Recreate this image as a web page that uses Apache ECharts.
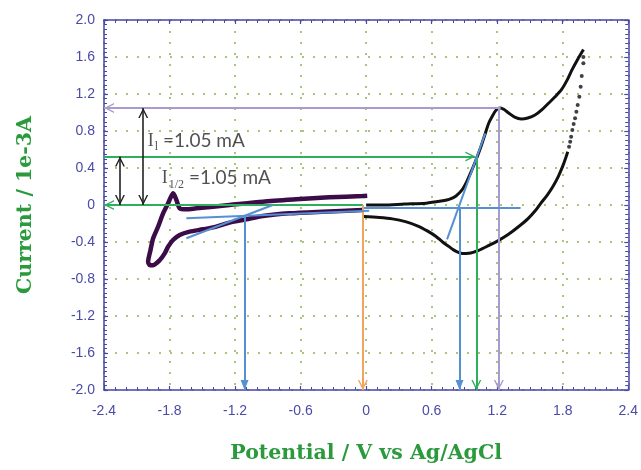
<!DOCTYPE html>
<html><head><meta charset="utf-8">
<script src="https://cdn.jsdelivr.net/npm/echarts@6/dist/echarts.min.js"></script>
<style>html,body{margin:0;padding:0;background:#fff}#c{width:641px;height:470px}</style>
</head><body><div id="c"></div>
<script>
// ---------- axis ticks ----------
const xTickLabels = ['-2.4','-1.8','-1.2','-0.6','0','0.6','1.2','1.8','2.4'];
const yTickLabels = ['-2.0','-1.6','-1.2','-0.8','-0.4','0','0.4','0.8','1.2','1.6','2.0'];

// ---------- CV traces [potential V, current 1e-3 A] ----------
const cvForward = [[0.0,0.0],[0.15,0.0],[0.35,0.01],[0.55,0.02],[0.7,0.045],[0.76,0.06],[0.82,0.095],[0.876,0.16],[0.92,0.25],[0.968,0.378],[1.01,0.5],[1.05,0.627],[1.09,0.77],[1.123,0.886],[1.16,0.97],[1.186,1.02],[1.21,1.045],[1.232,1.05],[1.26,1.035],[1.305,0.995],[1.36,0.95],[1.42,0.93],[1.48,0.94],[1.55,0.975],[1.61,1.03],[1.67,1.10],[1.73,1.17],[1.79,1.25],[1.84,1.35],[1.88,1.45],[1.93,1.56],[1.99,1.68]];
const cvReturnDots = [[1.989,1.60],[1.989,1.532],[1.974,1.395],[1.964,1.279],[1.952,1.171],[1.937,1.081],[1.925,1.009],[1.913,0.937],[1.900,0.876],[1.888,0.811],[1.877,0.739],[1.868,0.685],[1.858,0.630]];
const cvReturn = [[1.846,0.576],[1.83,0.52],[1.80,0.42],[1.76,0.31],[1.71,0.20],[1.66,0.11],[1.60,0.02],[1.55,-0.06],[1.48,-0.15],[1.40,-0.23],[1.30,-0.32],[1.21,-0.385],[1.12,-0.44],[1.03,-0.49],[0.94,-0.522],[0.88,-0.525],[0.85,-0.515],[0.80,-0.485],[0.76,-0.45],[0.70,-0.40],[0.64,-0.34],[0.56,-0.28],[0.48,-0.23],[0.36,-0.18],[0.24,-0.15],[0.12,-0.135],[-0.02,-0.125]];
const purpleUpper = [[0.01,0.10],[-0.034,0.097],[-0.338,0.083],[-0.642,0.061],[-0.946,0.036],[-1.25,0.0],[-1.555,-0.036],[-1.646,-0.047],[-1.707,-0.036],[-1.737,0.054],[-1.767,0.126],[-1.79,0.08],[-1.813,0.018],[-1.859,-0.09],[-1.905,-0.235],[-1.95,-0.36],[-1.974,-0.486],[-1.996,-0.613],[-1.98,-0.65]];
const purpleLower = [[-1.95,-0.65],[-1.889,-0.595],[-1.844,-0.523],[-1.813,-0.45],[-1.768,-0.378],[-1.707,-0.324],[-1.616,-0.288],[-1.494,-0.263],[-1.372,-0.234],[-1.25,-0.19],[-1.098,-0.155],[-0.946,-0.119],[-0.703,-0.09],[-0.4,-0.072],[-0.034,-0.054]];

// ---------- annotation geometry (data coordinates) ----------
const limitH = [[1.232,1.05],[-2.4,1.05]];
const limitV = [[1.215,1.05],[1.215,-2.0]];
const halfH = [[-2.4,0.525],[1.0,0.525]];
const halfV = [[1.009,0.525],[1.009,-2.0]];
const zeroH = [[-0.03,0.0],[-2.4,0.0]];
const orangeV = [[-0.03,0.0],[-0.03,-2.0]];
const blueLines = [
  [[-1.646,-0.144],[0.028,-0.062]],
  [[-1.646,-0.36],[-0.855,0.0]],
  [[-0.02,-0.03],[1.414,-0.03]],
  [[0.741,-0.371],[1.091,0.775]]
];
const blueArrows = [
  [[-1.113,-0.117],[-1.113,-2.0]],
  [[0.855,-0.03],[0.855,-2.0]]
];
const doubleArrows = [
  [[-2.254,0.0],[-2.254,0.525]],
  [[-2.041,0.0],[-2.041,1.05]]
];
const textAnchors = [[-2.0,0.68],[-1.871,0.275]];
const annotationTexts = [['I','l','=1.05 mA'],['I','1/2','=1.05 mA']];

// ---------- styles ----------
const axisColor = '#4646a8';
const chevron = 'path://M5 -10L5.01 -10L5 -9.99Z M5 0L10 10L8.5 10L5 3L1.5 10L0 10Z';
const tri = 'path://M4 -10L4.01 -10L4 -9.99Z M4 0L8 10L0 10Z';

function seg(p, q, s0, s1) {
  return [{coord:p, symbol:s0}, {coord:q, symbol:s1}];
}
function mlSeries(name, color, width, items, symSize) {
  return {
    type:'line', name:name, data:[], silent:true,
    markLine:{
      silent:true, animation:false, label:{show:false},
      symbolSize: symSize || [10,20],
      lineStyle:{color:color, width:width, type:'solid'},
      emphasis:{disabled:true},
      data: items
    }
  };
}

const chart = echarts.init(document.getElementById('c'), null, {renderer:'canvas'});

const baseX = {type:'value', min:-2.4, max:2.4, interval:0.6};
const baseY = {type:'value', min:-2.0, max:2.0, interval:0.4};
const gridDots = {show:true, lineStyle:{color:'#aac67a', width:2, type:[2,9]}};

const option = {
  animation:false,
  backgroundColor:'#ffffff',
  grid:{left:104, right:11, top:20, bottom:80, containLabel:false},
  xAxis:[
    Object.assign({}, baseX, {
      position:'bottom',
      name:'Potential / V vs Ag/AgCl', nameLocation:'middle', nameGap:53,
      nameTextStyle:{fontFamily:'DejaVu Serif', fontWeight:'bold', fontSize:20.5, color:'#2b9a3d'},
      axisLine:{show:true, onZero:false, lineStyle:{color:axisColor, width:1.5}},
      axisTick:{show:true, inside:true, length:4, lineStyle:{color:axisColor, width:1.2}},
      minorTick:{show:true, splitNumber:6, length:3, lineStyle:{color:axisColor, width:1}},
      axisLabel:{margin:14, fontFamily:'Liberation Sans', fontSize:14, color:'#4a4aa8',
        formatter:function(v){ return xTickLabels[Math.round((v+2.4)/0.6)]; }},
      splitLine:gridDots
    }),
    Object.assign({}, baseX, {
      position:'top',
      axisLine:{show:true, onZero:false, lineStyle:{color:axisColor, width:1.5}},
      axisTick:{show:true, inside:true, length:4, lineStyle:{color:axisColor, width:1.2}},
      minorTick:{show:true, splitNumber:6, length:3, lineStyle:{color:axisColor, width:1}},
      axisLabel:{show:false}, splitLine:{show:false}
    })
  ],
  yAxis:[
    Object.assign({}, baseY, {
      position:'left',
      name:'Current / 1e-3A', nameLocation:'middle', nameGap:68,
      nameTextStyle:{fontFamily:'DejaVu Serif', fontWeight:'bold', fontSize:20.5, color:'#2b9a3d'},
      axisLine:{show:true, onZero:false, lineStyle:{color:axisColor, width:1.5}},
      axisTick:{show:true, inside:true, length:4, lineStyle:{color:axisColor, width:1.2}},
      minorTick:{show:true, splitNumber:8, length:3, lineStyle:{color:axisColor, width:1}},
      axisLabel:{margin:9, fontFamily:'Liberation Sans', fontSize:14, color:'#4a4aa8',
        formatter:function(v){ return yTickLabels[Math.round((v+2.0)/0.4)]; }},
      splitLine:gridDots
    }),
    Object.assign({}, baseY, {
      position:'right',
      axisLine:{show:true, onZero:false, lineStyle:{color:axisColor, width:1.5}},
      axisTick:{show:true, inside:true, length:4, lineStyle:{color:axisColor, width:1.2}},
      minorTick:{show:true, splitNumber:8, length:3, lineStyle:{color:axisColor, width:1}},
      axisLabel:{show:false}, splitLine:{show:false}
    })
  ],
  series:[
    {type:'line', name:'purple', data:purpleUpper.concat(purpleLower), showSymbol:false, smooth:0.25,
      lineStyle:{color:'#3b0c48', width:4.5}, silent:true, z:3},
    {type:'line', name:'cvForward', data:cvForward, showSymbol:false, smooth:0.3,
      lineStyle:{color:'#111111', width:3}, silent:true, z:3},
    {type:'scatter', name:'cvDots', data:cvReturnDots, symbolSize:4, itemStyle:{color:'#111111'}, silent:true, z:3},
    {type:'line', name:'cvReturn', data:cvReturn, showSymbol:false, smooth:0.3,
      lineStyle:{color:'#111111', width:3}, silent:true, z:3},
    mlSeries('limit', '#a99bd0', 2, [seg(limitH[0],limitH[1],'none',chevron), seg(limitV[0],limitV[1],'none',chevron)]),
    mlSeries('half', '#2fae5c', 2, [seg(halfH[0],halfH[1],'none',chevron), seg(halfV[0],halfV[1],'none',chevron), seg(zeroH[0],zeroH[1],'none',chevron)]),
    mlSeries('orange', '#f2a35e', 2, [seg(orangeV[0],orangeV[1],'none',chevron)]),
    mlSeries('blue', '#5590d2', 2, blueLines.map(function(l){return seg(l[0],l[1],'none','none');})
      .concat(blueArrows.map(function(l){return seg(l[0],l[1],'none',tri);})), [8,20]),
    mlSeries('black', '#222222', 1.6, doubleArrows.map(function(l){return seg(l[0],l[1],chevron,chevron);})),
    {type:'scatter', name:'texts', data:textAnchors, symbolSize:0, silent:true, z:10,
      label:{show:true, position:'right', distance:0,
        formatter:function(p){
          const t = annotationTexts[p.dataIndex];
          return '{i|' + t[0] + '}{s|' + t[1] + '}{t| ' + t[2] + '}';
        },
        rich:{
          i:{fontFamily:'Liberation Serif', fontSize:18, color:'#262626', verticalAlign:'bottom', padding:[0,0,3,0]},
          s:{fontFamily:'Liberation Serif', fontSize:12, color:'#262626', verticalAlign:'bottom', padding:[0,0,0,1]},
          t:{fontFamily:'Lato', fontSize:19, color:'#262626', verticalAlign:'bottom', padding:[0,0,3,0]}
        }
      }
    }
  ]
};
chart.setOption(option);
</script>
</body></html>
